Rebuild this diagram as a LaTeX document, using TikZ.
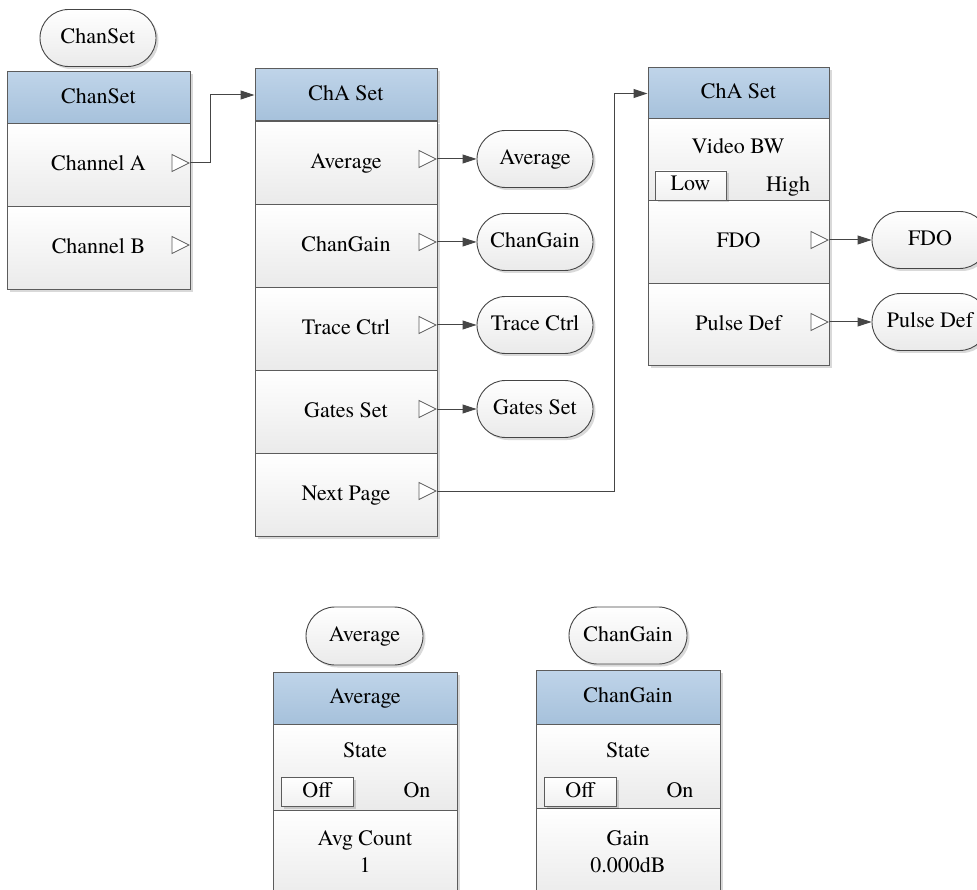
\documentclass[tikz,border=0pt]{standalone}
\usepackage{fontspec}
\IfFontExistsTF{texgyretermes-regular.otf}{%
  \setmainfont{texgyretermes}[Extension=.otf, UprightFont=*-regular, BoldFont=*-bold, ItalicFont=*-italic, BoldItalicFont=*-bolditalic]}{%
  \setmainfont{Liberation Serif}}
\usetikzlibrary{shapes.geometric,shapes.misc,arrows.meta,shadows}
\definecolor{hdrtop}{HTML}{BFD4E9}
\definecolor{hdrbot}{HTML}{A6C1DB}
\definecolor{rowbot}{HTML}{EAEAEA}
\definecolor{edge}{HTML}{5C5C5C}
\definecolor{wire}{HTML}{454545}
\tikzset{
  every node/.style={font=\fontsize{22}{27}\selectfont, text=black, inner sep=0pt},
  one/.style={text height=15.5pt, text depth=4.5pt},
  shad/.style={drop shadow={shadow xshift=2.5pt, shadow yshift=-2.5pt, fill=black, opacity=0.15}},
  hdr/.style={rectangle, draw=edge, line width=1pt, top color=hdrtop, bottom color=hdrbot, minimum width=183pt, minimum height=52pt, shad, one},
  rowbox/.style={rectangle, draw=edge, line width=1pt, top color=white, bottom color=rowbot, minimum width=183pt, minimum height=83pt, shad, one},
  oval/.style={rounded rectangle, draw=wire, line width=0.9pt, top color=white, bottom color=rowbot, minimum width=116pt, minimum height=57pt, shad, one},
  tri/.style={isosceles triangle, isosceles triangle stretches, draw=edge, fill=white, line width=0.8pt, minimum width=17pt, minimum height=17pt, anchor=apex},
  swbox/.style={rectangle, draw=edge, line width=0.9pt, top color=white, bottom color=rowbot!70, minimum width=72pt, minimum height=29pt, shad, one},
  lbl/.style={one},
  multi/.style={align=center},
  wireln/.style={draw=wire, line width=1pt},
  arr/.style={wireln, -{Triangle[length=14pt,width=9pt]}},
}
\begin{document}
\begin{tikzpicture}[x=1pt,y=-1pt]
\clip (0,0) rectangle (977,890);
\fill[white] (0,0) rectangle (977,890);

% ---- ChanSet menu
\node[oval] (o0) at (98,38) {ChanSet};
\node[hdr] (h1) at (98.5,98) {ChanSet};
\node[rowbox] (r1a) at (98.5,165.5) {Channel A};
\node[rowbox] (r1b) at (98.5,248.5) {Channel B};
\node[tri] (t1a) at (190,163) {};
\node[tri] (t1b) at (190,245) {};

% ---- ChA Set page 1
\node[hdr, minimum width=182pt] (h2) at (346,95) {ChA Set};
\node[rowbox, minimum width=182pt] (r2a) at (346,162.6) {Average};
\node[rowbox, minimum width=182pt] (r2b) at (346,245.8) {ChanGain};
\node[rowbox, minimum width=182pt] (r2c) at (346,329) {Trace Ctrl};
\node[rowbox, minimum width=182pt] (r2d) at (346,412.2) {Gates Set};
\node[rowbox, minimum width=182pt] (r2e) at (346,495.4) {Next Page};
\node[tri] (t2a) at (437,159) {};
\node[tri] (t2b) at (437,242) {};
\node[tri] (t2c) at (437,325) {};
\node[tri] (t2d) at (437,409) {};
\node[tri] (t2e) at (437,491) {};
\node[oval] (o2a) at (535,159) {Average};
\node[oval] (o2b) at (535,242) {ChanGain};
\node[oval] (o2c) at (535,325) {Trace Ctrl};
\node[oval] (o2d) at (535,409) {Gates Set};

% ---- ChA Set page 2
\node[hdr, minimum width=181pt, minimum height=51pt] (h3) at (738.5,93.5) {ChA Set};
\node[rowbox, minimum width=181pt, minimum height=82pt] (r3a) at (738.5,160) {};
\node[rowbox, minimum width=181pt] (r3b) at (738.5,242.5) {FDO};
\node[rowbox, minimum width=181pt, minimum height=82pt] (r3c) at (738.5,325) {Pulse Def};
\node[lbl] (vbw) at (738,148) {Video BW};
\node[swbox, minimum width=71pt] (low) at (690.5,185.5) {Low};
\node[lbl] (high) at (788,186) {High};
\node[tri] (t3b) at (829,240) {};
\node[tri] (t3c) at (829,322) {};
\node[oval] (o3b) at (930,240) {FDO};
\node[oval] (o3c) at (930,322) {Pulse Def};

% ---- Average submenu
\node[oval, minimum width=117pt, minimum height=58pt] (o4) at (364.5,636) {Average};
\node[hdr, minimum width=184pt] (h4) at (365,698) {Average};
\node[rowbox, minimum width=184pt, minimum height=86pt] (r4a) at (365,767) {};
\node[rowbox, minimum width=184pt, minimum height=92pt] (r4b) at (365,856) {};
\node[lbl] (st4) at (365,752) {State};
\node[swbox] (off4) at (317,791.5) {Off};
\node[lbl] (on4) at (417,792) {On};
\node[multi] (cnt4) at (365,852) {Avg Count\\1};

% ---- ChanGain submenu
\node[oval, minimum width=118pt] (o5) at (628,635.5) {ChanGain};
\node[hdr, minimum width=184pt, minimum height=54pt] (h5) at (628,697) {ChanGain};
\node[rowbox, minimum width=184pt, minimum height=84pt] (r5a) at (628,766) {};
\node[rowbox, minimum width=184pt, minimum height=92pt] (r5b) at (628,854) {};
\node[lbl] (st5) at (628,752) {State};
\node[swbox] (off5) at (580,791.5) {Off};
\node[lbl] (on5) at (680,792) {On};
\node[multi] (gain5) at (628,852) {Gain\\0.000dB};

% ---- connectors
\coordinate (bend1) at (210,163);
\coordinate (bend2) at (614,491);
\draw[arr] (t1a.apex) -- (bend1) |- (h2.west);
\draw[arr] (t2a.apex) -- (o2a.west);
\draw[arr] (t2b.apex) -- (o2b.west);
\draw[arr] (t2c.apex) -- (o2c.west);
\draw[arr] (t2d.apex) -- (o2d.west);
\draw[arr] (t2e.apex) -- (bend2) |- (h3.west);
\draw[arr] (t3b.apex) -- (o3b.west);
\draw[arr] (t3c.apex) -- (o3c.west);
\end{tikzpicture}
\end{document}
